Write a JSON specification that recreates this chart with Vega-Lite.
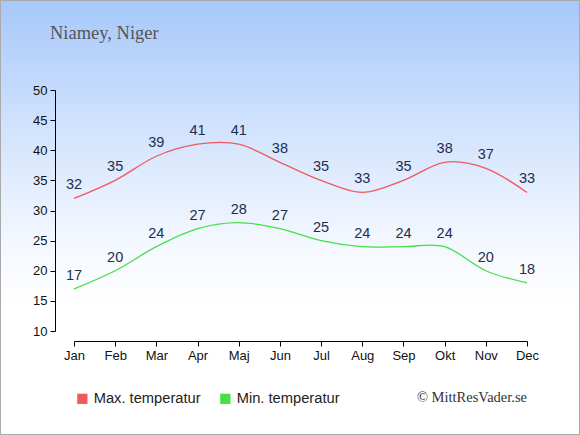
{
  "$schema": "https://vega.github.io/schema/vega-lite/v6.json",
  "width": 580,
  "height": 435,
  "padding": 0,
  "autosize": {"type": "none"},
  "background": "#ffffff",
  "view": {
    "fill": {"gradient": "linear", "x1": 0, "y1": 0, "x2": 0, "y2": 1,
      "stops": [
        {"offset": 0, "color": "#a6c8fb"},
        {"offset": 0.3, "color": "#d2e3fd"},
        {"offset": 0.55, "color": "#f3f7ff"},
        {"offset": 0.7, "color": "#ffffff"},
        {"offset": 1, "color": "#ffffff"}
      ]},
    "stroke": "#aaaaaa",
    "strokeWidth": 2
  },
  "title": {
    "text": "Niamey, Niger",
    "anchor": "start",
    "frame": "group",
    "orient": "top",
    "offset": 0,
    "dx": 50,
    "dy": 42,
    "font": "Liberation Serif",
    "fontSize": 18.5,
    "fontWeight": "normal",
    "color": "#555555"
  },
  "datasets": {
    "temps": [
      {"month": "Jan", "serie": "Max. temperatur", "temp": 32},
      {"month": "Feb", "serie": "Max. temperatur", "temp": 35},
      {"month": "Mar", "serie": "Max. temperatur", "temp": 39},
      {"month": "Apr", "serie": "Max. temperatur", "temp": 41},
      {"month": "Maj", "serie": "Max. temperatur", "temp": 41},
      {"month": "Jun", "serie": "Max. temperatur", "temp": 38},
      {"month": "Jul", "serie": "Max. temperatur", "temp": 35},
      {"month": "Aug", "serie": "Max. temperatur", "temp": 33},
      {"month": "Sep", "serie": "Max. temperatur", "temp": 35},
      {"month": "Okt", "serie": "Max. temperatur", "temp": 38},
      {"month": "Nov", "serie": "Max. temperatur", "temp": 37},
      {"month": "Dec", "serie": "Max. temperatur", "temp": 33},
      {"month": "Jan", "serie": "Min. temperatur", "temp": 17},
      {"month": "Feb", "serie": "Min. temperatur", "temp": 20},
      {"month": "Mar", "serie": "Min. temperatur", "temp": 24},
      {"month": "Apr", "serie": "Min. temperatur", "temp": 27},
      {"month": "Maj", "serie": "Min. temperatur", "temp": 28},
      {"month": "Jun", "serie": "Min. temperatur", "temp": 27},
      {"month": "Jul", "serie": "Min. temperatur", "temp": 25},
      {"month": "Aug", "serie": "Min. temperatur", "temp": 24},
      {"month": "Sep", "serie": "Min. temperatur", "temp": 24},
      {"month": "Okt", "serie": "Min. temperatur", "temp": 24},
      {"month": "Nov", "serie": "Min. temperatur", "temp": 20},
      {"month": "Dec", "serie": "Min. temperatur", "temp": 18}
    ],
    "credit": [
      {"label": "© MittResVader.se", "month": "Dec", "pos": -1.1}
    ]
  },
  "layer": [
    {
      "data": {"name": "temps"},
      "mark": {"type": "line", "interpolate": "cardinal", "strokeWidth": 1.3},
      "encoding": {
        "x": {
          "field": "month",
          "type": "ordinal",
          "sort": null,
          "scale": {"type": "point", "domain": ["Jan", "Feb", "Mar", "Apr", "Maj", "Jun", "Jul", "Aug", "Sep", "Okt", "Nov", "Dec"], "range": [74, 527], "padding": 0},
          "axis": {
            "title": null,
            "orient": "bottom",
            "offset": -94,
            "labelAngle": 0,
            "labelFont": "Liberation Sans",
            "labelFontSize": 13,
            "labelColor": "#111111",
            "labelPadding": 3,
            "tickSize": 5,
            "tickColor": "#000000",
            "domainColor": "#000000",
            "grid": false
          }
        },
        "y": {
          "field": "temp",
          "type": "quantitative",
          "scale": {"domain": [10, 50], "range": [331, 90], "zero": false, "nice": false},
          "axis": {
            "title": null,
            "offset": -55,
            "values": [10, 15, 20, 25, 30, 35, 40, 45, 50],
            "labelFont": "Liberation Sans",
            "labelFontSize": 13,
            "labelColor": "#111111",
            "labelPadding": 3,
            "tickSize": 5,
            "tickColor": "#000000",
            "domainColor": "#000000",
            "grid": false
          }
        },
        "color": {
          "field": "serie",
          "type": "nominal",
          "scale": {"domain": ["Max. temperatur", "Min. temperatur"], "range": ["#f05a5a", "#44e044"]},
          "legend": {
            "title": null,
            "orient": "none",
            "legendX": 75,
            "legendY": 391,
            "direction": "horizontal",
            "padding": 0,
            "symbolType": "square",
            "symbolSize": 105,
            "symbolStrokeWidth": 0,
            "labelFont": "Liberation Sans",
            "labelFontSize": 14.7,
            "labelColor": "#222222",
            "labelOffset": 4,
            "columnPadding": 17,
            "encode": {
              "symbols": {
                "update": {
                  "fill": {"scale": "color", "field": "value"},
                  "stroke": {"value": "transparent"},
                  "opacity": {"value": 1}
                }
              }
            }
          }
        }
      }
    },
    {
      "data": {"name": "temps"},
      "mark": {"type": "text", "dy": -13, "font": "Liberation Sans", "fontSize": 14.5, "color": "#1e2e4e"},
      "encoding": {
        "x": {"field": "month", "type": "ordinal", "sort": null},
        "y": {"field": "temp", "type": "quantitative"},
        "text": {"field": "temp", "type": "quantitative"}
      }
    },
    {
      "data": {"name": "credit"},
      "mark": {"type": "text", "align": "right", "baseline": "middle", "font": "Liberation Serif", "fontSize": 14.5, "color": "#333333"},
      "encoding": {
        "x": {"field": "month", "type": "ordinal", "sort": null},
        "y": {"field": "pos", "type": "quantitative"},
        "text": {"field": "label", "type": "nominal"}
      }
    }
  ]
}
